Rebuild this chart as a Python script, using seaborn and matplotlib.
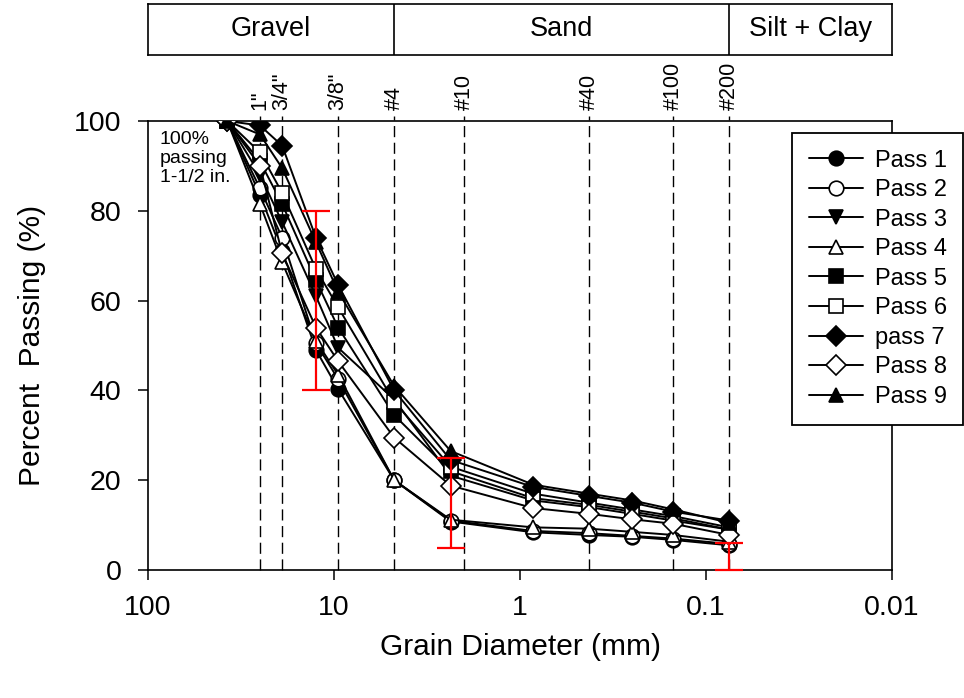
import matplotlib
matplotlib.use("Agg")
import matplotlib.pyplot as plt
import matplotlib.transforms as mtransforms
import seaborn as sns

# Sieve openings (mm) where each pass was measured
sieve_mm = [37.5, 25, 19, 12.5, 9.5, 4.75, 2.36, 0.85, 0.425, 0.25, 0.15, 0.075]

# Percent passing for each pass
pass_1 = [100, 83.5, 71.0, 49.0, 40.3, 20.0, 10.8, 8.4, 7.8, 7.4, 6.7, 5.5]
pass_2 = [100, 85.0, 74.0, 50.5, 42.5, 20.0, 11.0, 8.7, 8.2, 7.6, 7.0, 5.8]
pass_3 = [100, 88.0, 77.5, 61.0, 49.5, 38.0, 21.0, 15.5, 14.0, 12.5, 11.0, 9.0]
pass_4 = [100, 81.5, 68.5, 51.0, 43.5, 20.0, 11.2, 9.5, 9.2, 8.5, 7.8, 6.3]
pass_5 = [100, 91.0, 81.5, 64.5, 54.0, 34.5, 22.0, 16.0, 14.5, 13.0, 11.5, 9.0]
pass_6 = [100, 93.0, 84.0, 67.0, 58.5, 37.5, 23.0, 17.0, 15.0, 13.5, 12.0, 9.5]
pass_7 = [100, 99.0, 94.5, 74.0, 63.5, 40.0, 24.5, 18.5, 16.5, 15.0, 13.0, 11.0]
pass_8 = [100, 90.0, 70.5, 54.0, 46.5, 29.5, 18.8, 13.8, 12.5, 11.3, 10.3, 7.8]
pass_9 = [100, 97.0, 89.5, 73.0, 62.0, 41.0, 26.5, 19.0, 17.0, 15.5, 13.5, 10.5]

pass_names = ["Pass 1", "Pass 2", "Pass 3", "Pass 4", "Pass 5",
              "Pass 6", "pass 7", "Pass 8", "Pass 9"]
pass_values = [pass_1, pass_2, pass_3, pass_4, pass_5,
               pass_6, pass_7, pass_8, pass_9]

# Specification band (red bars)
spec_mm = [12.5, 2.36, 0.075]
spec_low = [40, 5, 0]
spec_high = [80, 25, 6]

# Sieve reference lines
line_mm = [25, 19, 9.5, 4.75, 2.0, 0.425, 0.15, 0.075]
line_labels = ['1"', '3/4"', '3/8"', '#4', '#10', '#40', '#100', '#200']

# Soil classes for the top box
class_names = ["Gravel", "Sand", "Silt + Clay"]
class_edges = [100, 4.75, 0.075, 0.01]

x_ticks = [100, 10, 1, 0.1, 0.01]
x_tick_labels = ["100", "10", "1", "0.1", "0.01"]
y_ticks = [0, 20, 40, 60, 80, 100]

markers = ["o", "o", "v", "^", "s", "s", "D", "D", "^"]
faces = ["black", "white", "black", "white", "black",
         "white", "black", "white", "black"]

sns.set_style("ticks")
plt.rcParams["font.family"] = ["Liberation Sans", "DejaVu Sans"]
plt.rcParams["text.color"] = "black"
plt.rcParams["axes.labelcolor"] = "black"
plt.rcParams["xtick.color"] = "black"
plt.rcParams["ytick.color"] = "black"

fig = plt.figure(figsize=(9.64, 6.98), dpi=100)
ax = fig.add_axes([148 / 964, 1 - 570 / 698, 744 / 964, 449 / 698])
ax.set_xscale("log")

for name, vals, m, fc in zip(pass_names, pass_values, markers, faces):
    sns.lineplot(x=sieve_mm, y=vals, ax=ax, color="black", linewidth=1.4,
                 marker=m, markersize=10.5, markerfacecolor=fc,
                 markeredgecolor="black", markeredgewidth=1.2,
                 label=name, sort=False, estimator=None, zorder=3)

# dashed sieve lines with labels above the plot
trans = mtransforms.blended_transform_factory(ax.transData, ax.transAxes)
for xm, lab in zip(line_mm, line_labels):
    ax.axvline(xm, ymin=0, ymax=1.012, color="black", lw=1.0,
               linestyle=(0, (8, 4)), zorder=1, clip_on=False)
    ax.text(xm, 1.025, lab, transform=trans, rotation=90, ha="center",
            va="bottom", fontsize=15.5)

# specification bars
mid = [(lo + hi) / 2 for lo, hi in zip(spec_low, spec_high)]
err = [[m - lo for m, lo in zip(mid, spec_low)],
       [hi - m for m, hi in zip(mid, spec_high)]]
ax.errorbar(spec_mm, mid, yerr=err, fmt="none", ecolor="red",
            elinewidth=1.6, capsize=10, capthick=1.6, zorder=6, clip_on=False)

ax.text(0.016, 0.978, "100%\npassing\n1-1/2 in.", transform=ax.transAxes,
        ha="left", va="top", fontsize=14, linespacing=1.15)

ax.set_xlim(100, 0.01)
ax.set_ylim(0, 100)
ax.set_xticks(x_ticks)
ax.set_xticklabels(x_tick_labels)
ax.xaxis.set_minor_locator(matplotlib.ticker.NullLocator())
ax.set_yticks(y_ticks)
ax.tick_params(axis="both", which="major", labelsize=20.5, length=7,
               width=1.1, direction="out", color="black")
ax.tick_params(axis="x", pad=11)
ax.tick_params(axis="y", pad=12)
for sp in ax.spines.values():
    sp.set_visible(True)
    sp.set_linewidth(1.2)
    sp.set_color("black")

ax.set_xlabel("Grain Diameter (mm)", fontsize=21.5)
ax.set_ylabel("Percent  Passing (%)", fontsize=21.5)
ax.xaxis.set_label_coords(0.5, -0.14)
ax.yaxis.set_label_coords(-0.137, 0.5)

handles, labels = ax.get_legend_handles_labels()
leg = ax.legend(handles, labels, loc="upper left",
                bbox_to_anchor=(792 / 964, 1 - 133 / 698),
                bbox_transform=fig.transFigure, borderaxespad=0,
                fontsize=17, frameon=True, fancybox=False, framealpha=1,
                edgecolor="black", handlelength=2.3, handletextpad=0.5,
                labelspacing=0.32, borderpad=0.7)
leg.get_frame().set_linewidth(1.3)
leg.set_zorder(10)

# top class box
top = fig.add_axes([148 / 964, 1 - 55 / 698, 744 / 964, 51 / 698])
top.set_xscale("log")
top.set_xlim(100, 0.01)
top.set_ylim(0, 1)
top.set_xticks([])
top.set_yticks([])
top.xaxis.set_minor_locator(matplotlib.ticker.NullLocator())
for sp in top.spines.values():
    sp.set_visible(True)
    sp.set_linewidth(1.2)
    sp.set_color("black")
for edge in class_edges[1:-1]:
    top.axvline(edge, color="black", lw=1.2)
for name, a, b in zip(class_names, class_edges[:-1], class_edges[1:]):
    top.text((a * b) ** 0.5, 0.5, name, ha="center", va="center",
             fontsize=19.5)

fig.savefig("out.png", dpi=100)
